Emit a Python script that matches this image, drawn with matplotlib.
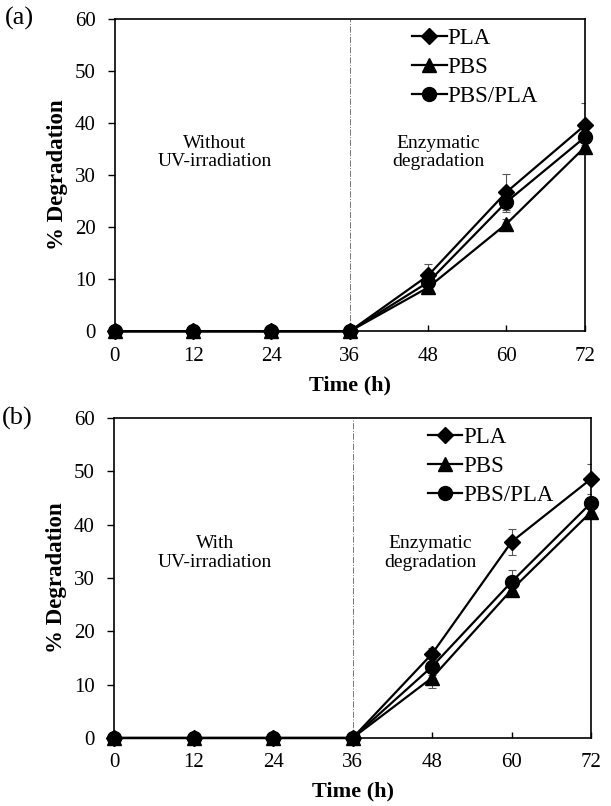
import numpy as np
import matplotlib
matplotlib.use("Agg")
import matplotlib.pyplot as plt

#data
time_h = [0, 12, 24, 36, 48, 60, 72]
series_names = ["PLA", "PBS", "PBS/PLA"]
markers = ["D", "^", "o"]

#(a) without UV-irradiation
pla_a = [0, 0, 0, 0, 10.7, 26.7, 39.5]
pbs_a = [0, 0, 0, 0, 8.4, 20.6, 35.3]
blend_a = [0, 0, 0, 0, 9.4, 24.8, 37.2]
pla_a_err = [0, 0, 0, 0, 2.2, 3.5, 4.2]
pbs_a_err = [0, 0, 0, 0, 1.0, 1.0, 1.0]
blend_a_err = [0, 0, 0, 0, 1.2, 2.0, 1.5]

#(b) with UV-irradiation
pla_b = [0, 0, 0, 0, 15.8, 36.8, 48.6]
pbs_b = [0, 0, 0, 0, 11.3, 27.8, 42.4]
blend_b = [0, 0, 0, 0, 13.4, 29.3, 44.1]
pla_b_err = [0, 0, 0, 0, 1.0, 2.4, 2.8]
pbs_b_err = [0, 0, 0, 0, 2.0, 1.0, 1.0]
blend_b_err = [0, 0, 0, 0, 1.5, 2.2, 1.0]

plt.rcParams["font.family"] = ["Liberation Serif", "DejaVu Serif"]

fig = plt.figure(figsize=(6.11, 8.06), dpi=100)
ax_a = fig.add_axes([0.188, 0.589, 0.769, 0.388])
ax_b = fig.add_axes([0.1866, 0.0844, 0.781, 0.397])

panels = [
    (ax_a, [pla_a, pbs_a, blend_a], [pla_a_err, pbs_a_err, blend_a_err],
     "(a)", "Without\nUV-irradiation", (15.3, 34.3), (49.5, 34.3), 0.93),
    (ax_b, [pla_b, pbs_b, blend_b], [pla_b_err, pbs_b_err, blend_b_err],
     "(b)", "With\nUV-irradiation", (15.2, 34.7), (47.7, 34.7), 0.95),
]

for ax, vals, errs, tag, note, note_xy, enz_xy, leg_x in panels:
    #error bars first so markers sit on top
    for v, e in zip(vals, errs):
        ax.errorbar(time_h, v, yerr=e, fmt="none", ecolor="#555555",
                    elinewidth=0.8, capsize=3, capthick=0.8, zorder=2)
    for v, name, m in zip(vals, series_names, markers):
        ax.plot(time_h, v, color="black", marker=m, markersize=10 if m != "D" else 8,
                linewidth=1.6, label=name, zorder=3, clip_on=False)

    ax.axvline(36, color="#777777", linestyle="-.", linewidth=0.7, zorder=1)

    ax.set_xlim(0, 72)
    ax.set_ylim(0, 60)
    ax.set_xticks(time_h)
    ax.set_yticks(np.arange(0, 61, 10))
    ax.tick_params(axis="x", labelsize=15, direction="in", length=4, width=1, pad=11)
    ax.tick_params(axis="y", labelsize=15, direction="out", length=5, width=1, pad=9)
    for s in ax.spines.values():
        s.set_linewidth(1.2)

    ax.set_xlabel("Time (h)", fontsize=16, fontweight="bold", labelpad=7)
    ax.set_ylabel("% Degradation", fontsize=16.5, fontweight="bold", labelpad=5)

    ax.text(note_xy[0], note_xy[1], note, ha="center", va="center",
            fontsize=14, linespacing=1.1)
    ax.text(enz_xy[0], enz_xy[1], "Enzymatic\ndegradation", ha="center",
            va="center", fontsize=14, linespacing=1.1)

    ax.legend(loc="upper right", bbox_to_anchor=(leg_x, 1.015), frameon=False,
              fontsize=16.5, handlelength=1.5, handletextpad=0.05,
              labelspacing=0.35, borderaxespad=0.2)

    ax.text(-0.235, 1.0, tag, transform=ax.transAxes, fontsize=19,
            ha="left", va="center")

fig.savefig("out.png", dpi=100)
